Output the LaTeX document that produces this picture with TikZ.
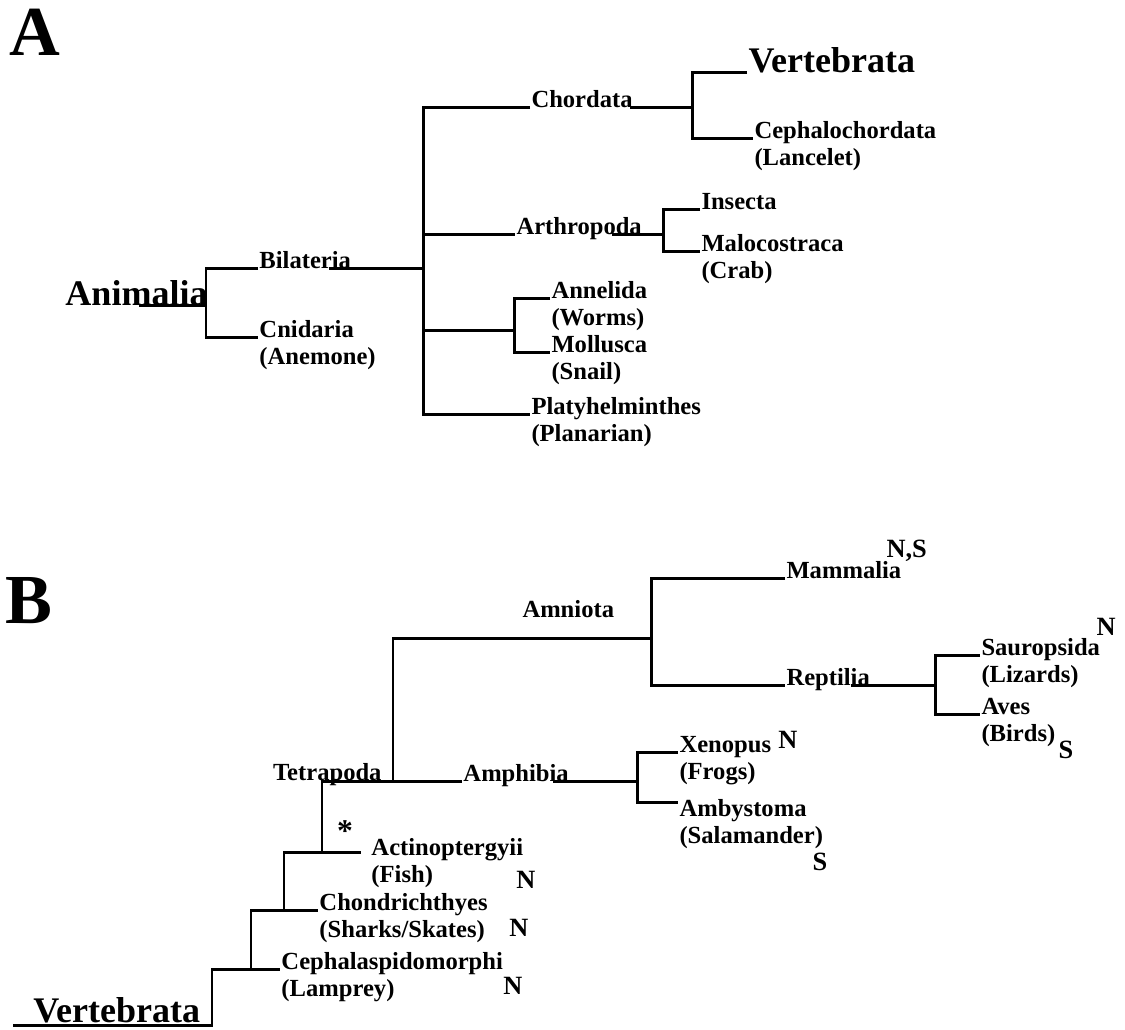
\documentclass[tikz,border=0pt]{standalone}
\usepackage{fontspec}
\setmainfont{Liberation Serif}
\newcommand\twoline[2]{\begin{tabular}[t]{@{}l@{}}#1\\#2\end{tabular}}

\begin{document}
\begin{tikzpicture}[x=0.02cm,y=-0.02cm,line width=1.7pt,
  taxon/.style={anchor=base west,inner sep=0pt,
  font=\fontsize{14}{15.4}\selectfont\bfseries},
  clade/.style={anchor=base west,inner sep=0pt,
  font=\fontsize{20.5}{24}\selectfont\bfseries},
  panel/.style={anchor=base west,inner sep=0pt,
  font=\fontsize{40}{44}\selectfont\bfseries},
  site/.style={inner sep=0pt,font=\fontsize{15}{18}\selectfont\bfseries}]

  \useasboundingbox (0,0) rectangle (1125,1029);

  % A
  \node[panel] (A)   at (8,55)    {A};
  \node[clade] (anim) at (64,305) {Animalia};
  \node[taxon] (bil) at (258,268) {Bilateria};
  \node[taxon] (cni) at (258,337) {\twoline{Cnidaria}{(Anemone)}};
  \node[taxon] (cho) at (530,107) {Chordata};
  \node[taxon] (art) at (515,234) {Arthropoda};
  \node[taxon] (ann) at (550,298) {\twoline{Annelida}{(Worms)}};
  \node[taxon] (mol) at (550,352) {\twoline{Mollusca}{(Snail)}};
  \node[taxon] (pla) at (530,414) {\twoline{Platyhelminthes}{(Planarian)}};
  \node[clade] (vta) at (747,72)  {Vertebrata};
  \node[taxon] (cep) at (753,138) {\twoline{Cephalochordata}{(Lancelet)}};
  \node[taxon] (ins) at (700,209) {Insecta};
  \node[taxon] (mal) at (700,251) {\twoline{Malocostraca}{(Crab)}};

  \coordinate (a0) at (139,305);
  \coordinate (a1) at (206,305);
  \coordinate (b0) at (329,268);
  \coordinate (b1) at (423,268);
  \coordinate (m1) at (514,330);
  \coordinate (c0) at (630,107);
  \coordinate (c1) at (692,107);
  \coordinate (r0) at (612,234);
  \coordinate (r1) at (663,234);

  \draw (a0) -- (a1);
  \draw (bil.base west) -| (a1) |- (cni.base west);
  \draw (b0) -- (b1);
  \draw (cho.base west) -| (b1) |- (pla.base west);
  \draw (art.base west -| b1) -- (art.base west);
  \draw (m1 -| b1) -- (m1);
  \draw (ann.base west) -| (m1) |- (mol.base west);
  \draw (c0) -- (c1);
  \draw (vta.base west) -| (c1) |- (cep.base west);
  \draw (r0) -- (r1);
  \draw (ins.base west) -| (r1) |- (mal.base west);

  % B
  \node[panel] (B)   at (4,623)   {B};
  \node[clade] (vtb) at (32,1022) {Vertebrata};
  \node[taxon] (cph) at (280,969) {\twoline{Cephalaspidomorphi}{(Lamprey)}};
  \node[taxon] (chd) at (318,910) {\twoline{Chondrichthyes}{(Sharks/Skates)}};
  \node[taxon] (act) at (370,855) {\twoline{Actinoptergyii}{(Fish)}};
  \node[taxon,anchor=base east] (tet) at (383,780) {Tetrapoda};
  \node[taxon] (amp) at (462,781) {Amphibia};
  \node[taxon] (amn) at (521,617) {Amniota};
  \node[taxon] (mam) at (785,578) {Mammalia};
  \node[taxon] (rep) at (785,685) {Reptilia};
  \node[taxon] (sau) at (980,655) {\twoline{Sauropsida}{(Lizards)}};
  \node[taxon] (ave) at (980,714) {\twoline{Aves}{(Birds)}};
  \node[taxon] (xen) at (678,752) {\twoline{Xenopus}{(Frogs)}};
  \node[taxon] (amb) at (678,816) {\twoline{Ambystoma}{(Salamander)}};

  \node[site,anchor=base west] (nsmam) at (885,557) {N,S};
  \node[site] (nsau)   at (1106,627) {N};
  \node[site] (sbird)  at (1066,750) {S};
  \node[site] (nxen)   at (788,740)  {N};
  \node[site] (ssal)   at (820,862)  {S};
  \node[site] (nfish)  at (526,880)  {N};
  \node[site] (nshark) at (519,928)  {N};
  \node[site] (nlamp)  at (513,986)  {N};
  \node[site,anchor=base,font=\fontsize{18}{18}\selectfont\bfseries]
    (star) at (345,841) {*};

  \coordinate (v0) at (13,1025);
  \coordinate (v1) at (212,969);
  \coordinate (v2) at (251,969);
  \coordinate (v3) at (284,910);
  \coordinate (v4) at (322,852);
  \coordinate (v5) at (393,781);
  \coordinate (v6) at (651,638);
  \coordinate (p0) at (553,781);
  \coordinate (p1) at (637,781);
  \coordinate (s0) at (851,685);
  \coordinate (s1) at (935,685);

  \draw (v0) -| (v1) -- (cph.base west);
  \draw (v2) |- (chd.base west);
  \draw (v3) |- ([xshift=-0.18cm,yshift=0.06cm]act.base west);
  \draw (v4) |- (amp.base west);
  \draw (v5) |- (v6);
  \draw (mam.base west) -| (v6) |- (rep.base west);
  \draw (s0) -- (s1);
  \draw (sau.base west) -| (s1) |- (ave.base west);
  \draw (p0) -- (p1);
  \draw (xen.base west) -| (p1) |- ([yshift=0.28cm]amb.base west);

\end{tikzpicture}
\end{document}
